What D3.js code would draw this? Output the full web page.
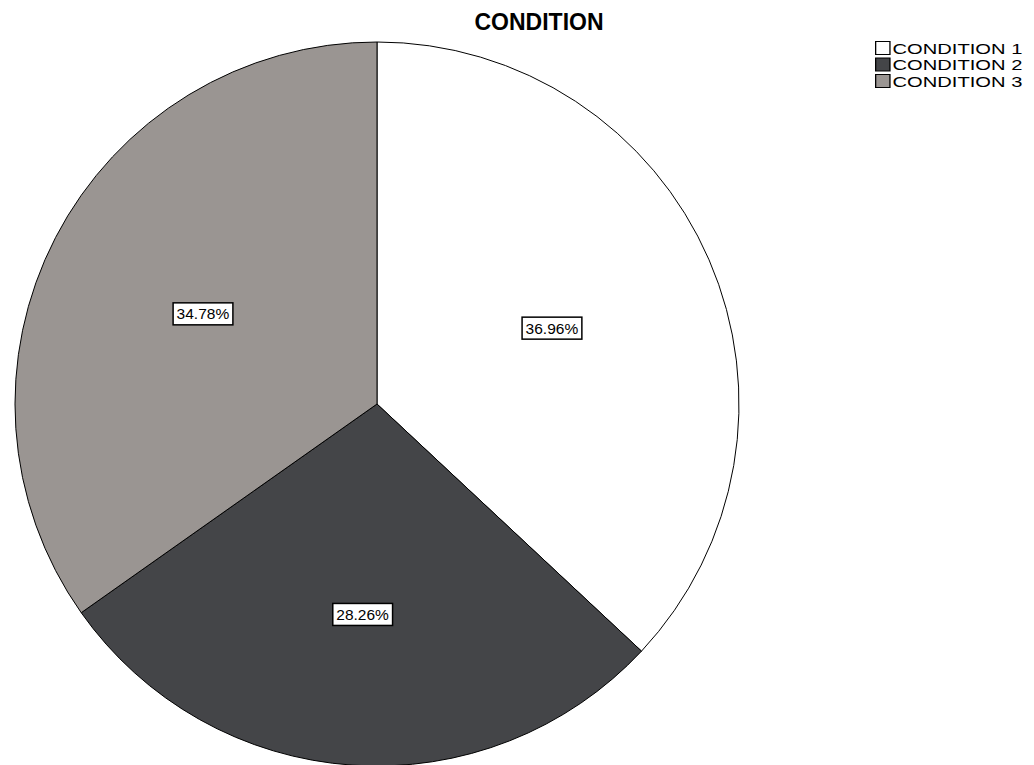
<!DOCTYPE html>
<html>
<head>
<meta charset="utf-8">
<script src="https://cdn.jsdelivr.net/npm/d3@7"></script>
<style>
  body { margin: 0; background: #fff; }
  svg { display: block; }
</style>
</head>
<body>
<div id="chart"></div>
<script>
// Chart data
const categories = ["CONDITION 1", "CONDITION 2", "CONDITION 3"];
const percents = [36.96, 28.26, 34.78];
const colors = ["#ffffff", "#444548", "#9a9592"];

const width = 1034, height = 765;
const cx = 377, cy = 404, radius = 362;

const svg = d3.select("#chart")
    .append("svg")
    .attr("width", width)
    .attr("height", height);

// Title
svg.append("text")
    .attr("x", 539)
    .attr("y", 30)
    .attr("text-anchor", "middle")
    .style("font-family", "Liberation Sans, Arial, sans-serif")
    .style("font-size", "23px")
    .style("font-weight", "bold")
    .text("CONDITION");

const data = categories.map((c, i) => ({ name: c, value: percents[i], color: colors[i] }));

const pie = d3.pie()
    .value(d => d.value)
    .sort(null);

const arc = d3.arc()
    .innerRadius(0)
    .outerRadius(radius);

const arcs = pie(data);

const g = svg.append("g")
    .attr("transform", `translate(${cx},${cy})`);

g.selectAll("path")
    .data(arcs)
    .join("path")
    .attr("d", arc)
    .attr("fill", d => d.data.color)
    .attr("stroke", "#000")
    .attr("stroke-width", 1);

// Labels placed at each slice's area centroid
const labels = g.selectAll("g.label")
    .data(arcs)
    .join("g")
    .attr("class", "label")
    .attr("transform", d => {
        const half = (d.endAngle - d.startAngle) / 2;
        const mid = (d.startAngle + d.endAngle) / 2;
        const dist = 2 * radius * Math.sin(half) / (3 * half);
        return `translate(${dist * Math.sin(mid)},${-dist * Math.cos(mid)})`;
    });

labels.append("text")
    .attr("text-anchor", "middle")
    .attr("dy", "0.36em")
    .style("font-family", "Liberation Sans, Arial, sans-serif")
    .style("font-size", "15.5px")
    .text(d => d.data.value.toFixed(2) + "%");

labels.each(function () {
    const t = d3.select(this).select("text");
    const b = t.node().getBBox();
    d3.select(this).insert("rect", "text")
        .attr("x", b.x - 3.5)
        .attr("y", b.y - 2.5)
        .attr("width", b.width + 7)
        .attr("height", b.height + 5)
        .attr("fill", "#fff")
        .attr("stroke", "#000")
        .attr("stroke-width", 1.5);
});

// Legend (stretched horizontally like the original)
const legend = svg.append("g")
    .attr("transform", "translate(875,41) scale(1.3,1)");

const rows = legend.selectAll("g")
    .data(data)
    .join("g")
    .attr("transform", (d, i) => `translate(0,${i * 16.5})`);

rows.append("rect")
    .attr("x", 0.5)
    .attr("y", 0.5)
    .attr("width", 11)
    .attr("height", 13)
    .attr("fill", d => d.color)
    .attr("stroke", "#000")
    .attr("stroke-width", 1);

rows.append("text")
    .attr("x", 13.5)
    .attr("y", 12.5)
    .style("font-family", "Liberation Sans, Arial, sans-serif")
    .style("font-size", "15.5px")
    .text(d => d.name);
</script>
</body>
</html>
